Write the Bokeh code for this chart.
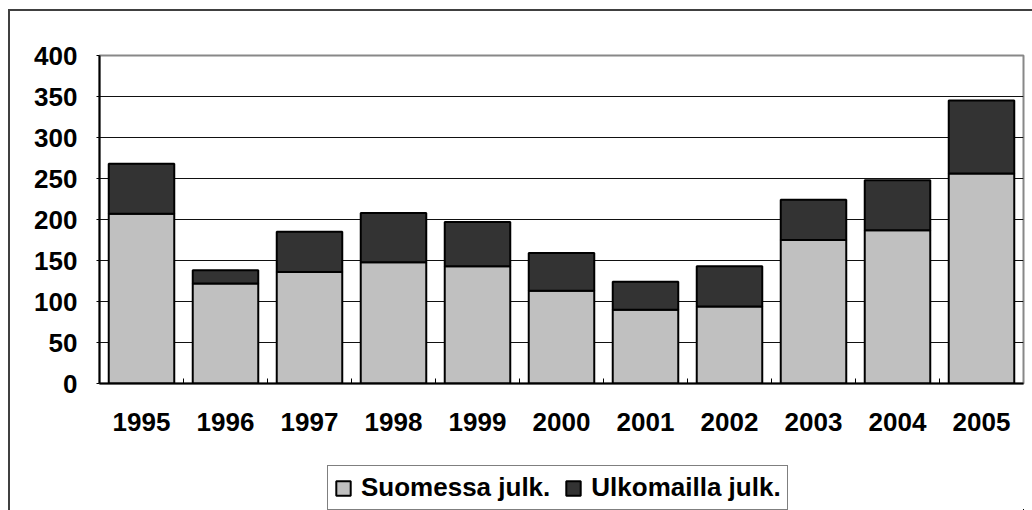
from bokeh.plotting import figure
from bokeh.models import ColumnDataSource, Range1d, FixedTicker, Legend, LegendItem
from bokeh.layouts import column
from bokeh.embed import file_html
from bokeh.resources import INLINE

years = [1995, 1996, 1997, 1998, 1999, 2000, 2001, 2002, 2003, 2004, 2005]
suomessa = [207, 122, 136, 148, 143, 113, 90, 94, 175, 187, 256]
ulkomailla = [61, 16, 49, 60, 54, 46, 34, 49, 49, 61, 89]
series_names = ["Suomessa julk.", "Ulkomailla julk."]
series_colors = ["#C0C0C0", "#333333"]
y_ticks = [0, 50, 100, 150, 200, 250, 300, 350, 400]

FONT = "Liberation Sans"

src = ColumnDataSource(dict(year=years, suomessa=suomessa, ulkomailla=ulkomailla))

p = figure(width=1022, height=442, output_backend="svg", toolbar_location=None,
           title=None,
           x_range=Range1d(years[0] - 0.5, years[-1] + 0.5), y_range=Range1d(0, 400),
           min_border_left=89, min_border_right=9, min_border_top=44, min_border_bottom=70,
           background_fill_color="white", border_fill_color="white")

p.vbar_stack(["suomessa", "ulkomailla"], x="year", width=0.78, source=src,
             fill_color=series_colors, line_color="black", line_width=2)

# x axis
p.xaxis.ticker = FixedTicker(ticks=years, minor_ticks=[y + 0.5 for y in years[:-1]])
p.xaxis.major_label_overrides = {y: str(y) for y in years}
p.xaxis.major_tick_in = 0
p.xaxis.major_tick_out = 0
p.xaxis.minor_tick_in = 5
p.xaxis.minor_tick_out = 0
p.xaxis.minor_tick_line_color = "black"
p.xaxis.minor_tick_line_width = 1
p.xaxis.axis_line_color = "black"
p.xaxis.axis_line_width = 2
p.xaxis.major_label_standoff = 29
p.xaxis.major_label_text_font = FONT
p.xaxis.major_label_text_font_style = "bold"
p.xaxis.major_label_text_font_size = "26px"
p.xaxis.major_label_text_color = "black"

# y axis
p.yaxis.ticker = FixedTicker(ticks=y_ticks)
p.yaxis.minor_tick_line_color = None
p.yaxis.major_tick_in = 0
p.yaxis.major_tick_out = 3
p.yaxis.major_tick_line_color = "black"
p.yaxis.axis_line_color = "black"
p.yaxis.axis_line_width = 2
p.yaxis.major_label_standoff = 19
p.yaxis.major_label_text_font = FONT
p.yaxis.major_label_text_font_style = "bold"
p.yaxis.major_label_text_font_size = "26px"
p.yaxis.major_label_text_color = "black"

# grid
p.xgrid.grid_line_color = None
p.ygrid.ticker = FixedTicker(ticks=y_ticks[1:-1])
p.ygrid.grid_line_color = "#111111"
p.ygrid.grid_line_width = 1

p.outline_line_color = "#888888"
p.outline_line_width = 2

# legend strip below the chart (same stacked series, kept outside its visible ranges)
q = figure(width=1022, height=57, output_backend="svg", toolbar_location=None,
           title=None, x_range=Range1d(0, 1), y_range=Range1d(1000, 1001),
           min_border=0, background_fill_color="white", border_fill_color="white")
q.axis.visible = False
q.grid.grid_line_color = None
q.outline_line_color = None

swatches = q.vbar_stack(["suomessa", "ulkomailla"], x="year", width=0.78, source=src,
                        fill_color=series_colors, line_color="black", line_width=2)

legend = Legend(items=[LegendItem(label=series_names[i], renderers=[swatches[i]])
                       for i in range(2)],
                orientation="horizontal", location=(228, 0),
                label_text_font=FONT, label_text_font_style="bold",
                label_text_font_size="26px", label_text_color="black",
                glyph_width=18, glyph_height=18, label_standoff=9, spacing=14,
                padding=6, margin=0, border_line_color="black", border_line_width=1,
                background_fill_color="white", background_fill_alpha=1)
q.add_layout(legend, "center")

root = column(p, q, spacing=0,
              styles={"border-left": "2px solid #404040", "border-top": "2px solid #404040",
                      "margin-left": "8px", "margin-top": "9px"})

open("out.html", "w").write(file_html(root, INLINE))
